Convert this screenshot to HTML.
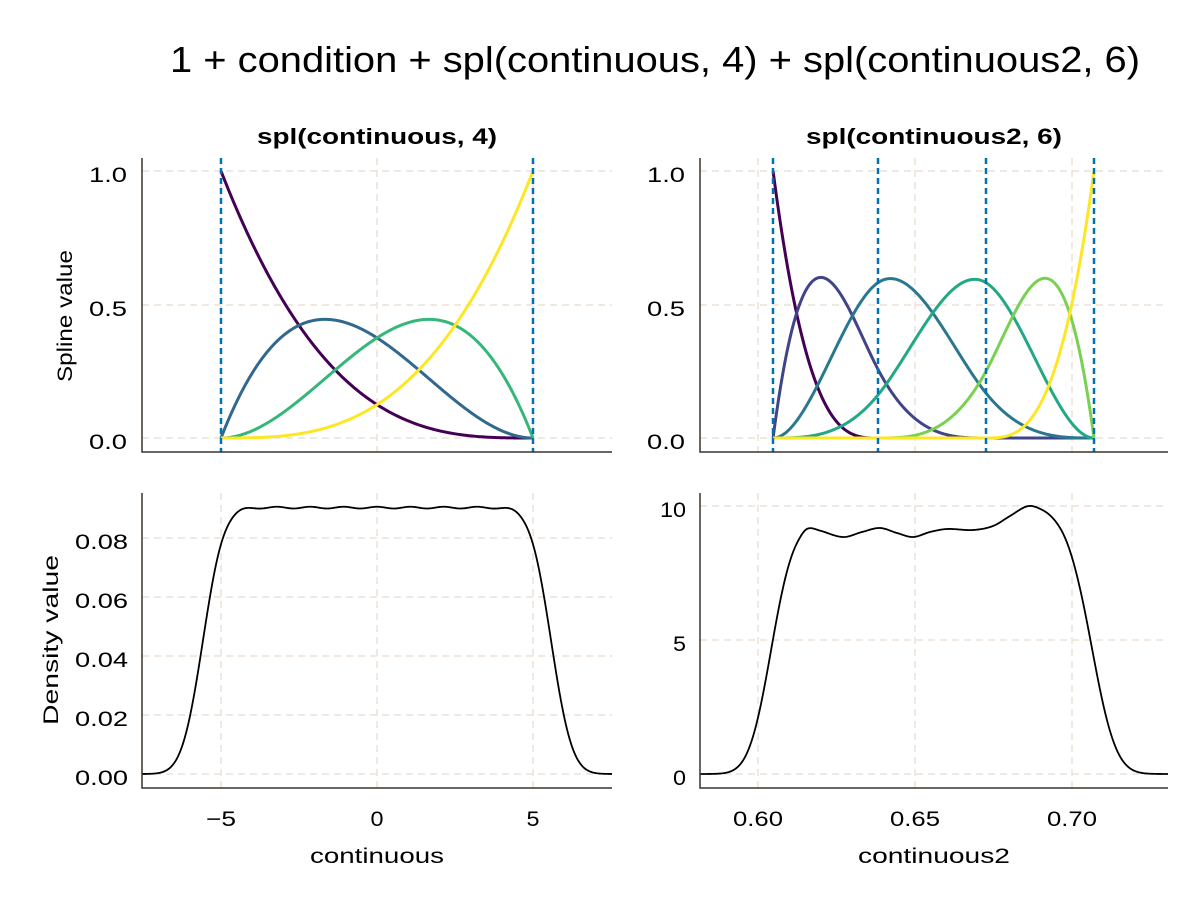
<!DOCTYPE html>
<html><head><meta charset="utf-8"><style>
html,body{margin:0;padding:0;background:#fff;}
svg text{font-family:"Liberation Sans",Arial,sans-serif;fill:#000;}
</style></head><body>
<svg id="s" width="1200" height="900" xmlns="http://www.w3.org/2000/svg">
<rect width="1200" height="900" fill="#fff"/>
<g id="grid" stroke="#ece2d8" stroke-width="1.5" stroke-dasharray="7,5" fill="none"></g>
<g id="curves" fill="none"></g>
<g id="axes" stroke="#3a332d" stroke-width="1.5" fill="none">
<path d="M142,158V452H612"/><path d="M700,158V452H1168"/>
<path d="M142,493V788H612"/><path d="M700,493V788H1168"/>
</g>
<text x="170" y="72" font-size="36" textLength="970" lengthAdjust="spacingAndGlyphs">1 + condition + spl(continuous, 4) + spl(continuous2, 6)</text>
<text x="257" y="144" font-size="22" font-weight="bold" textLength="240" lengthAdjust="spacingAndGlyphs">spl(continuous, 4)</text>
<text x="806" y="144" font-size="22" font-weight="bold" textLength="256" lengthAdjust="spacingAndGlyphs">spl(continuous2, 6)</text>
<g font-size="21" text-anchor="end" lengthAdjust="spacingAndGlyphs">
<text x="127" y="182" textLength="38" lengthAdjust="spacingAndGlyphs">1.0</text><text x="127" y="316" textLength="38" lengthAdjust="spacingAndGlyphs">0.5</text><text x="127" y="449" textLength="38" lengthAdjust="spacingAndGlyphs">0.0</text>
<text x="685" y="182" textLength="38" lengthAdjust="spacingAndGlyphs">1.0</text><text x="685" y="316" textLength="38" lengthAdjust="spacingAndGlyphs">0.5</text><text x="685" y="449" textLength="38" lengthAdjust="spacingAndGlyphs">0.0</text>
<text x="128" y="549" textLength="53" lengthAdjust="spacingAndGlyphs">0.08</text><text x="128" y="608" textLength="53" lengthAdjust="spacingAndGlyphs">0.06</text><text x="128" y="667" textLength="53" lengthAdjust="spacingAndGlyphs">0.04</text><text x="128" y="726" textLength="53" lengthAdjust="spacingAndGlyphs">0.02</text><text x="128" y="785" textLength="53" lengthAdjust="spacingAndGlyphs">0.00</text>
<text x="686" y="517" textLength="26" lengthAdjust="spacingAndGlyphs">10</text><text x="686" y="651" textLength="13" lengthAdjust="spacingAndGlyphs">5</text><text x="686" y="785" textLength="13" lengthAdjust="spacingAndGlyphs">0</text>
</g>
<g font-size="21" text-anchor="middle">
<text x="221" y="826" textLength="30" lengthAdjust="spacingAndGlyphs">−5</text><text x="377" y="826" textLength="13" lengthAdjust="spacingAndGlyphs">0</text><text x="533" y="826" textLength="13" lengthAdjust="spacingAndGlyphs">5</text>
<text x="758" y="826" textLength="50" lengthAdjust="spacingAndGlyphs">0.60</text><text x="915" y="826" textLength="50" lengthAdjust="spacingAndGlyphs">0.65</text><text x="1072" y="826" textLength="50" lengthAdjust="spacingAndGlyphs">0.70</text>
<text x="377" y="863" textLength="134" lengthAdjust="spacingAndGlyphs">continuous</text>
<text x="934" y="863" textLength="152" lengthAdjust="spacingAndGlyphs">continuous2</text>
<text transform="translate(72,316) rotate(-90)" textLength="132" lengthAdjust="spacingAndGlyphs">Spline value</text>
<text transform="translate(58,640) rotate(-90)" textLength="170" lengthAdjust="spacingAndGlyphs">Density value</text>
</g>
</svg>
<script>
const NS="http://www.w3.org/2000/svg";
function add(g,d,attrs){const p=document.createElementNS(NS,"path");p.setAttribute("d",d);for(const k in attrs)p.setAttribute(k,attrs[k]);document.getElementById(g).appendChild(p);}
[[221,158,452],[377,158,452],[533,158,452],[758,158,452],[915,158,452],[1072,158,452],
 [221,493,788],[377,493,788],[533,493,788],[758,493,788],[915,493,788],[1072,493,788]].forEach(a=>add("grid",`M${a[0]},${a[1]}V${a[2]}`,{}));
[[142,612,171],[142,612,305],[142,612,438],[700,1168,171],[700,1168,305],[700,1168,438],
 [142,612,774],[142,612,715],[142,612,656],[142,612,597],[142,612,538],
 [700,1168,774],[700,1168,640],[700,1168,506]].forEach(a=>add("grid",`M${a[0]},${a[2]}H${a[1]}`,{}));
const yT=v=>438-v*267;
const colsL=["#440154","#31688e","#35b779","#fde725"];
const fL=[t=>(1-t)**3,t=>3*t*(1-t)**2,t=>3*t*t*(1-t),t=>t**3];
fL.forEach((f,i)=>{let d="";for(let k=0;k<=200;k++){const t=k/200;const x=221+312*t;d+=(k?"L":"M")+x.toFixed(2)+","+yT(f(t)).toFixed(2);}add("curves",d,{stroke:colsL[i],"stroke-width":3});});
const px=v=>758+(v-0.60)*3140;
const a=0.6048,k1=0.6382,k2=0.6726,b=0.7070;
const kn=[a,a,a,a,k1,k2,b,b,b,b];
function B(i,p,x){if(p===0){if(x>=kn[i]&&x<kn[i+1])return 1;if(x===b&&kn[i+1]===b&&kn[i]<b)return 1;return 0;}
 let r=0;const d1=kn[i+p]-kn[i],d2=kn[i+p+1]-kn[i+1];
 if(d1>0)r+=(x-kn[i])/d1*B(i,p-1,x);if(d2>0)r+=(kn[i+p+1]-x)/d2*B(i+1,p-1,x);return r;}
const colsR=["#440154","#414487","#2a788e","#22a884","#7ad151","#fde725"];
for(let i=0;i<6;i++){let d="";for(let k=0;k<=300;k++){const x=a+(b-a)*k/300;d+=(k?"L":"M")+px(x).toFixed(2)+","+yT(B(i,3,x)).toFixed(2);}add("curves",d,{stroke:colsR[i],"stroke-width":3});}
[221,533,773,878,986,1094].forEach(x=>add("curves",`M${x},158V452`,{stroke:"#0072b2","stroke-width":2.5,"stroke-dasharray":"6,4"}));
function Phi(z){const t=1/(1+0.2316419*Math.abs(z));const d=0.3989423*Math.exp(-z*z/2);let p=d*t*(0.3193815+t*(-0.3565638+t*(1.781478+t*(-1.821256+t*1.330274))));return z>0?1-p:p;}
{let d="";for(let k=0;k<=470;k++){const X=142+k;const x=(X-377)/31.2;const edge=Phi((x+5.58)/0.53)-Phi((x-5.58)/0.53);let v=0.0903*edge+0.0003*Math.cos(2*Math.PI*x/1.07)*edge**6;const y=774-v*2950;d+=(k?"L":"M")+X+","+y.toFixed(2);}add("curves",d,{stroke:"#000","stroke-width":1.8});}
const P=[[700,527],[780,527],[797,526],[807,524],[820,530],[843,537],[862,532],[880,528],[897,533],[913,537],[930,532],[947,529],[973,530],[993,526],[1010,516],[1028,506],[1043,509],[1060,516],[1080,522],[1168,525]];
function prof(X){let i=0;while(i<P.length-2&&X>P[i+1][0])i++;
 const p0=P[Math.max(0,i-1)],p1=P[i],p2=P[i+1],p3=P[Math.min(P.length-1,i+2)];
 const t=(X-p1[0])/(p2[0]-p1[0]);const h=p2[0]-p1[0];
 const m1=(p2[1]-p0[1])/(p2[0]-p0[0]||1)*h, m2=(p3[1]-p1[1])/(p3[0]-p1[0]||1)*h;
 const t2=t*t,t3=t2*t;return (2*t3-3*t2+1)*p1[1]+(t3-2*t2+t)*m1+(-2*t3+3*t2)*p2[1]+(t3-t2)*m2;}
{let d="";for(let k=0;k<=468;k++){const X=700+k;const edge=Phi((X-771)/17.5)-Phi((X-1092)/19);const v=(774-prof(X))*edge;d+=(k?"L":"M")+X+","+(774-v).toFixed(2);}add("curves",d,{stroke:"#000","stroke-width":1.8});}
</script>
</body></html>
